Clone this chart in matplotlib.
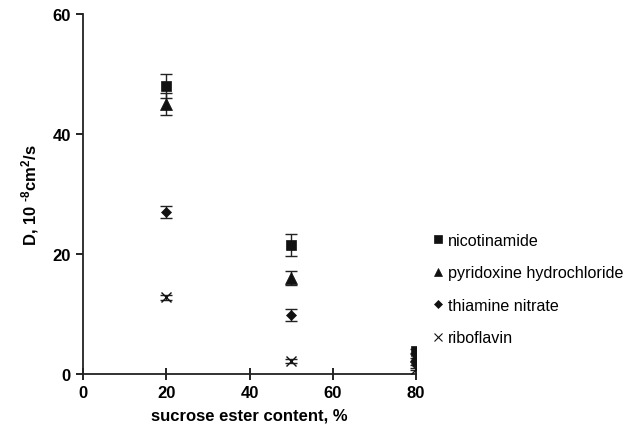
import numpy as np
import matplotlib
matplotlib.use("Agg")
import matplotlib.pyplot as plt

plt.rcParams['font.family'] = ['Liberation Sans', 'DejaVu Sans']
plt.rcParams['mathtext.fontset'] = 'custom'
plt.rcParams['mathtext.bf'] = 'Liberation Sans:bold'
plt.rcParams['mathtext.rm'] = 'Liberation Sans:bold'
plt.rcParams['mathtext.default'] = 'bf'

content = [20, 50, 80]
series = ["nicotinamide", "pyridoxine hydrochloride", "thiamine nitrate", "riboflavin"]
nicotinamide = [48.0, 21.5, 3.8]
nicotinamide_err = [2.0, 1.8, 0.3]
pyridoxine = [45.0, 16.0, 3.0]
pyridoxine_err = [1.8, 1.2, 0.3]
thiamine = [27.0, 9.8, 1.8]
thiamine_err = [1.0, 1.0, 0.3]
riboflavin = [12.8, 2.2, 0.8]
riboflavin_err = [0.4, 0.3, 0.2]

values = [nicotinamide, pyridoxine, thiamine, riboflavin]
errors = [nicotinamide_err, pyridoxine_err, thiamine_err, riboflavin_err]
markers = ["s", "^", "D", "x"]
msizes = [7.5, 8, 5.5, 6.5]

fig = plt.figure(figsize=(6.35, 4.31), dpi=100)
ax = fig.add_axes([0.131, 0.130, 0.524, 0.835])

for name, v, e, m, ms in zip(series, values, errors, markers, msizes):
    ax.errorbar(content, v, yerr=e, fmt="none", ecolor="#222222",
                elinewidth=1.0, capsize=4, capthick=1.0, zorder=2)
    ax.plot(content, v, linestyle="none", marker=m, markersize=ms,
            color="#111111", markeredgewidth=1.0 if m == "x" else 0.5,
            label=name, zorder=3)

ax.set_xlim(0, 80)
ax.set_ylim(0, 60)
ax.set_xticks([0, 20, 40, 60, 80])
ax.set_yticks([0, 20, 40, 60])
ax.spines["top"].set_visible(False)
ax.spines["right"].set_visible(False)
for s in ["left", "bottom"]:
    ax.spines[s].set_linewidth(1.3)
    ax.spines[s].set_color("#222222")
ax.tick_params(axis="x", direction="inout", length=8, width=1.2, pad=4)
ax.tick_params(axis="y", direction="out", length=5, width=1.2, pad=4)
for lab in ax.get_xticklabels() + ax.get_yticklabels():
    lab.set_fontweight("bold")
    lab.set_fontsize(12)
ax.set_xlabel("sucrose ester content, %", fontsize=12, fontweight="bold", labelpad=5)
ax.set_ylabel("D, 10 $^{\u2010 8}$cm$^{2}$/s", fontsize=12, fontweight="bold", labelpad=8)

leg_handles = []
for m, ms in zip(markers, msizes):
    leg_handles.append(plt.Line2D([], [], linestyle="none", marker=m,
                                  markersize=ms * 0.8, color="#111111",
                                  markeredgewidth=0.8 if m == "x" else 0.5))
fig.legend(leg_handles, series, loc="upper left", bbox_to_anchor=(0.672, 0.472),
           frameon=False, fontsize=11.6, handlelength=0.6, handletextpad=0.3,
           labelspacing=1.08, borderaxespad=0)

fig.savefig("out.png", dpi=100)
